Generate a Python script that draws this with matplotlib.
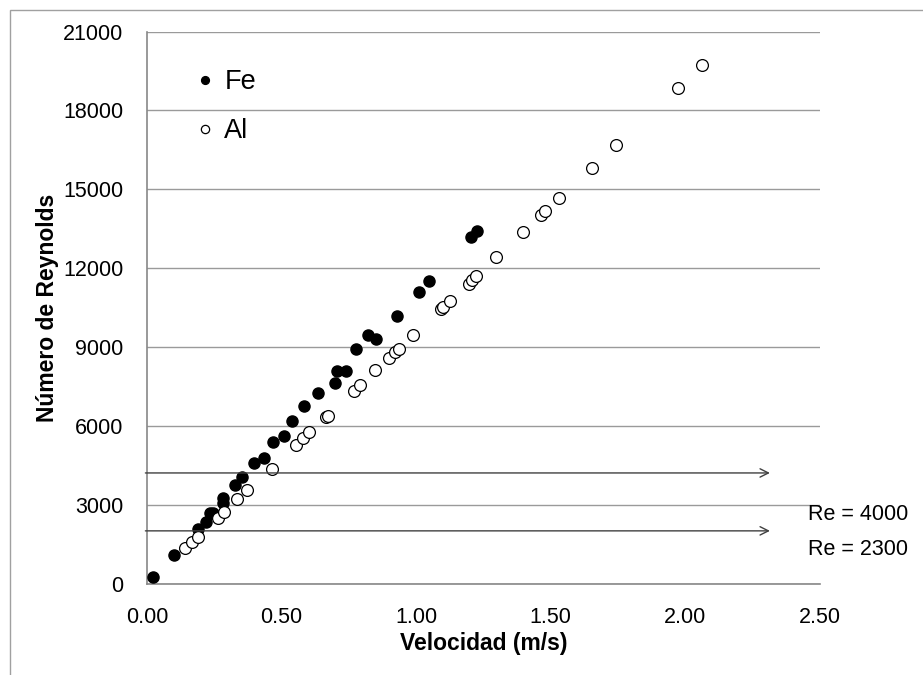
import matplotlib
matplotlib.use("Agg")
from matplotlib import pyplot as plt
from matplotlib.patches import Rectangle

# Datos: velocidad (m/s) y numero de Reynolds
fe_vel = [0.023, 0.101, 0.190, 0.219, 0.234, 0.245, 0.281, 0.284, 0.328, 0.354,
          0.397, 0.436, 0.469, 0.510, 0.540, 0.584, 0.634, 0.699, 0.705, 0.740,
          0.776, 0.822, 0.850, 0.929, 1.012, 1.048, 1.203, 1.227]
fe_re = [266, 1129, 2095, 2384, 2703, 2703, 3274, 3084, 3768, 4061,
         4593, 4783, 5414, 5631, 6213, 6764, 7285, 7665, 8106, 8106,
         8931, 9464, 9300, 10198, 11110, 11506, 13202, 13430]

al_vel = [0.141, 0.168, 0.188, 0.265, 0.287, 0.335, 0.373, 0.463, 0.552, 0.579,
          0.601, 0.665, 0.671, 0.769, 0.791, 0.848, 0.898, 0.921, 0.935, 0.988,
          1.093, 1.098, 1.127, 1.196, 1.208, 1.221, 1.298, 1.396, 1.464, 1.480,
          1.532, 1.653, 1.743, 1.971, 2.061]
al_re = [1369, 1597, 1810, 2510, 2738, 3232, 3586, 4395, 5278, 5551,
         5791, 6350, 6411, 7361, 7578, 8122, 8593, 8821, 8947, 9452,
         10468, 10517, 10764, 11407, 11570, 11696, 12418, 13369, 14015, 14167,
         14662, 15817, 16677, 18859, 19719]

# lineas de referencia (flechas) y sus textos
re_lineas = [4230, 2030]
re_textos = ["Re = 4000", "Re = 2300"]
re_texto_y = [2670, 1340]

fuente = ["Liberation Sans", "DejaVu Sans"]

fig = plt.figure(figsize=(9.23, 6.75), dpi=100)
ax = fig.add_axes([147 / 923, 1 - 584.3 / 675, 673 / 923, 552.8 / 675])

# marco exterior del grafico (estilo Excel)
fig.patches.append(Rectangle((9.5 / 923, -0.1), 1.2, (675 - 10.5) / 675 + 0.1,
                             transform=fig.transFigure, fill=False,
                             edgecolor="#a0a0a0", lw=1))

ax.plot(fe_vel, fe_re, "o", color="black", ms=8, label="Fe", zorder=3)
ax.plot(al_vel, al_re, "o", mfc="white", mec="black", mew=0.9, ms=8.5,
        label="Al", zorder=3)

for y, txt, ty in zip(re_lineas, re_textos, re_texto_y):
    ax.annotate("", xy=(2.314, y), xytext=(-0.006, y),
                arrowprops=dict(arrowstyle="->", color="#404040", lw=1,
                                mutation_scale=15, shrinkA=0, shrinkB=0),
                annotation_clip=False)
    ax.text(2.455, ty, txt, fontsize=15.5, family=fuente, va="center",
            ha="left", clip_on=False)

ax.set_xlim(0, 2.5)
ax.set_ylim(0, 21000)
ax.set_xticks([0, 0.5, 1.0, 1.5, 2.0, 2.5])
ax.set_yticks(range(0, 21001, 3000))
ax.set_xticklabels(["%.2f" % v for v in ax.get_xticks()])
ax.yaxis.grid(True, color="#9a9a9a", lw=1)
ax.set_axisbelow(True)

for s in ["top", "right"]:
    ax.spines[s].set_visible(False)
for s in ["left", "bottom"]:
    ax.spines[s].set_color("#888888")
    ax.spines[s].set_linewidth(1.2)

ax.tick_params(axis="both", length=0, labelsize=15.5)
ax.tick_params(axis="y", pad=17)
ax.tick_params(axis="x", pad=16)
for lab in ax.get_xticklabels() + ax.get_yticklabels():
    lab.set_family(fuente)

ax.set_xlabel("Velocidad (m/s)", fontsize=16.5, fontweight="bold",
              family=fuente, labelpad=3)
ax.set_ylabel("Número de Reynolds", fontsize=16.5, fontweight="bold",
              family=fuente, labelpad=3)

leg = ax.legend(loc="upper left", bbox_to_anchor=(0.0386, 0.976), frameon=False,
                prop={"family": fuente, "size": 19.5}, markerscale=0.7,
                handlelength=0.55, handletextpad=0.45, labelspacing=0.85)

fig.savefig("out.png", dpi=100)
